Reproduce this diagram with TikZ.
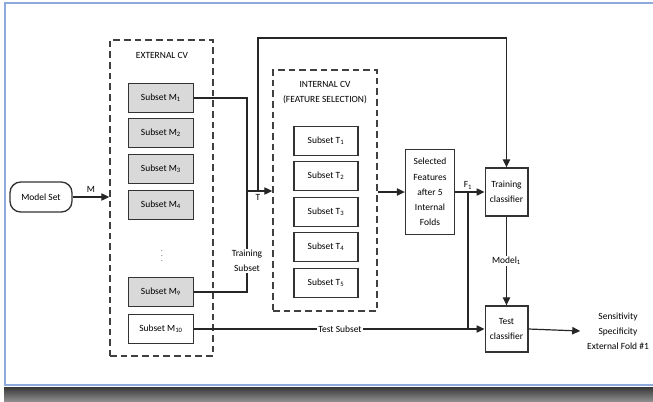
\documentclass[tikz,border=0pt]{standalone}
\usepackage{fontspec}
\setmainfont{Carlito}
\usetikzlibrary{arrows.meta,positioning,calc}
\definecolor{frameblue}{HTML}{8EA9DB}
\tikzset{
  subbox/.style={rectangle, draw=black!80, line width=1pt, fill=white, minimum width=48.75pt,
    minimum height=22pt, inner sep=1pt, font=\fontsize{7.1}{8}\selectfont},
  grbox/.style={subbox, fill=black!15},
  cvbox/.style={rectangle, draw=black!75, line width=1.1pt, dash pattern=on 5pt off 3pt},
  procbox/.style={rectangle, draw=black!80, line width=1pt, align=center, inner sep=1pt,
    font=\fontsize{7.1}{11.4}\selectfont},
  lbl/.style={font=\fontsize{7.1}{11.4}\selectfont, align=center, inner sep=1pt},
  flow/.style={-{Triangle[length=6pt,width=5.5pt]}, line width=0.9pt, draw=black!85},
  link/.style={line width=0.9pt, draw=black!85},
}
\begin{document}
\begin{tikzpicture}[x=0.75pt, y=-0.75pt]
  \useasboundingbox (0,0) rectangle (653,401);
  % window frame
  \shade[top color=black!78, bottom color=black!45] (4,387) rectangle (653,401);
  \draw[frameblue, line width=1.5pt] (653,3) -- (5,3) -- (5,385) -- (653,385);
  % model set
  \node[procbox, rounded corners=8pt, minimum width=46.5pt, minimum height=22.5pt] (model) at (41,197) {Model Set};
  % external cv
  \node[cvbox, minimum width=77.25pt, minimum height=237pt] (ext) at (161.5,198) {};
  \node[lbl] (extlbl) at (162,55) {EXTERNAL CV};
  \foreach \i/\y in {1/98, 2/133, 3/169, 4/205, 9/292}
    \node[grbox] (m\i) at (161,\y) {Subset M\textsubscript{\i}};
  \node[subbox] (m10) at (161,329) {Subset M\textsubscript{10}};
  \node[lbl, font=\fontsize{5}{5}\selectfont] (dots) at (162,252) {$\vdots$};
  % internal cv
  \node[cvbox, minimum width=78pt, minimum height=180.75pt] (int) at (325,190.5) {};
  \node[lbl] (intlbl) at (325,92.5) {INTERNAL CV\\(FEATURE SELECTION)};
  \foreach \i/\y in {1/141, 2/176, 3/212, 4/247, 5/283}
    \node[subbox, minimum width=48pt] (t\i) at (326,\y) {Subset T\textsubscript{\i}};
  % classifiers
  \node[procbox, minimum width=36.75pt, minimum height=63.75pt] (sel) at (430,192)
    {Selected\\Features\\after 5\\Internal\\Folds};
  \node[procbox, minimum width=32pt, minimum height=36pt] (train) at (506.5,192) {Training\\classifier};
  \node[procbox, minimum width=32pt, minimum height=34.5pt] (test) at (506.5,329) {Test\\classifier};
  \node[lbl, inner sep=5pt] (out) at (618,331) {Sensitivity\\Specificity\\External Fold \#1};
  % junctions
  \coordinate (tj) at (247,191);
  \coordinate (tk) at (258,191);
  \coordinate (top) at (258,38);
  \coordinate (fj) at (468,192);
  % connectors
  \draw[flow] (model.east) -- (ext.west |- model.east) node[lbl, midway, above=2pt] (mlbl) {M};
  \draw[link] (m1.east) -| (tj);
  \draw[link] (m9.east) -| (tj);
  \draw[flow] (tj) -- (tj -| int.west);
  \node[lbl, below=1pt of tk] (tlbl) {T};
  \draw[flow] (tk) -- (top) -| (train.north);
  \node[lbl, fill=white] (trlbl) at (247,261) {Training\\Subset};
  \draw[flow] (int.east |- sel.west) -- (sel.west);
  \draw[flow] (sel.east) -- (train.west);
  \node[lbl, above=1pt of fj] (flbl) {F\textsubscript{1}};
  \draw[link] (fj) -- (fj |- test.west);
  \draw[flow] (m10.east) -- (test.west);
  \node[lbl, fill=white] (tslbl) at (340,329) {Test Subset};
  \draw[flow] (train.south) -- (test.north) node[lbl, midway, fill=white] (mdl) {Model\textsubscript{1}};
  \draw[flow] (test.east) -- (out.west);
\end{tikzpicture}
\end{document}
